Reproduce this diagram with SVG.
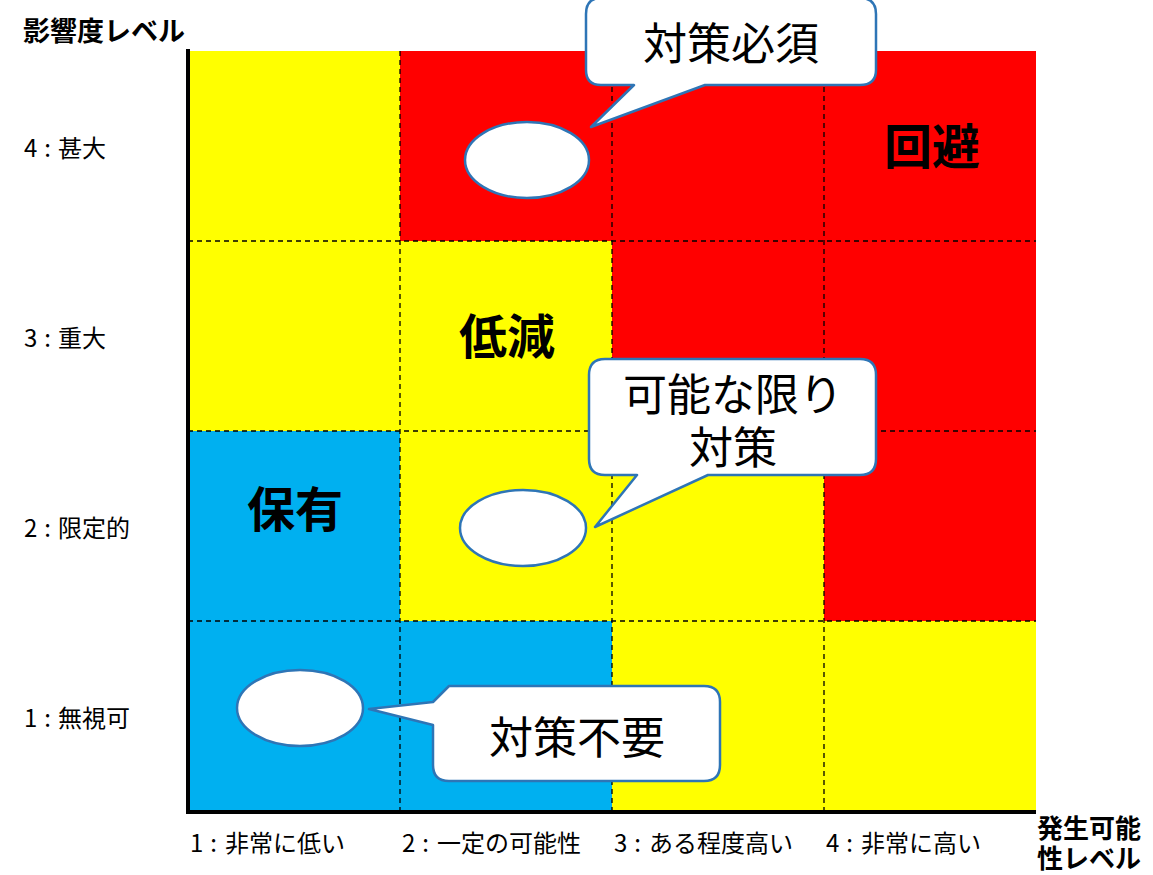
<svg xmlns="http://www.w3.org/2000/svg" width="1153" height="875" viewBox="0 0 1153 875">
<style>
.lbl{font-family:"Noto Sans CJK JP","Liberation Sans",sans-serif;font-size:24px;fill:#000}
.ttl{font-family:"Noto Sans CJK JP","Liberation Sans",sans-serif;font-size:27px;font-weight:700;fill:#000}
.ttl2{font-family:"Noto Sans CJK JP","Liberation Sans",sans-serif;font-size:26px;font-weight:700;fill:#000}
.cat{font-family:"Noto Sans CJK JP",sans-serif;font-size:48px;font-weight:700;fill:#000;text-anchor:middle}
.co{font-family:"Noto Sans CJK JP",sans-serif;font-size:44px;fill:#000;text-anchor:middle}
.bub{fill:#fff;stroke:#2E75B6;stroke-width:2.5;stroke-linejoin:round}
.dash{stroke:#000;stroke-width:1.3;stroke-dasharray:5,4;fill:none}
.y{fill:#FFFF00}.r{fill:#FF0000}.b{fill:#00B0F0}
</style>
<rect width="1153" height="875" fill="#fff"/>
<g id="grid">
<rect class="y" x="188" y="51" width="212" height="190"/>
<rect class="r" x="400" y="51" width="636" height="190"/>
<rect class="y" x="188" y="241" width="424" height="190"/>
<rect class="r" x="612" y="241" width="424" height="190"/>
<rect class="b" x="188" y="431" width="212" height="190"/>
<rect class="y" x="400" y="431" width="424" height="190"/>
<rect class="r" x="824" y="431" width="212" height="190"/>
<rect class="b" x="188" y="621" width="424" height="189"/>
<rect class="y" x="612" y="621" width="424" height="189"/>
</g>
<g id="connectors">
<path class="dash" d="M400 51V810M612 51V810M824 51V810M188 241H1036M188 431H1036M188 621H1036"/>
<path d="M188 49V812H1036" fill="none" stroke="#000" stroke-width="4"/>
</g>
<g id="axis-y-title"><text class="ttl" x="23" y="41">影響度レベル</text></g>
<g id="axis-y-labels">
<text class="lbl" x="24" y="157">4<tspan dx="7">:</tspan><tspan dx="7">甚大</tspan></text>
<text class="lbl" x="24" y="347">3<tspan dx="7">:</tspan><tspan dx="7">重大</tspan></text>
<text class="lbl" x="24" y="537">2<tspan dx="7">:</tspan><tspan dx="7">限定的</tspan></text>
<text class="lbl" x="24" y="727">1<tspan dx="7">:</tspan><tspan dx="7">無視可</tspan></text>
</g>
<g id="axis-x-labels">
<text class="lbl" x="190" y="852">1<tspan dx="7">:</tspan><tspan dx="8">非常に低い</tspan></text>
<text class="lbl" x="402" y="852">2<tspan dx="7">:</tspan><tspan dx="8">一定の可能性</tspan></text>
<text class="lbl" x="614" y="852">3<tspan dx="7">:</tspan><tspan dx="8">ある程度高い</tspan></text>
<text class="lbl" x="826" y="852">4<tspan dx="7">:</tspan><tspan dx="8">非常に高い</tspan></text>
</g>
<g id="axis-x-title">
<text class="ttl2" x="1037" y="838">発生可能</text>
<text class="ttl2" x="1037" y="868">性レベル</text>
</g>
<g id="cat-kaihi"><text class="cat" x="932" y="164">回避</text></g>
<g id="cat-teigen"><text class="cat" x="507" y="354">低減</text></g>
<g id="cat-hoyu"><text class="cat" x="295" y="527">保有</text></g>
<g id="ellipse-1"><ellipse class="bub" cx="527" cy="160" rx="62" ry="38"/></g>
<g id="ellipse-2"><ellipse class="bub" cx="523" cy="528" rx="63" ry="38"/></g>
<g id="ellipse-3"><ellipse class="bub" cx="300" cy="708" rx="63" ry="38"/></g>
<g id="callout-hissu">
<path class="bub" d="M601 -2H860Q876 -2 876 14V70Q876 85 860 85H705L591 127L634 85H601Q586 85 586 70V14Q586 -2 601 -2Z"/>
<text class="co" x="731" y="60">対策必須</text>
</g>
<g id="callout-kanou">
<path class="bub" d="M605 359H860Q876 359 876 375V459Q876 475 860 475H708L595 527L637 475H605Q589 475 589 459V375Q589 359 605 359Z"/>
<text class="co" x="733" y="411">可能な限り</text>
<text class="co" x="733" y="464">対策</text>
</g>
<g id="callout-fuyou">
<path class="bub" d="M449 686H704Q720 686 720 702V765Q720 781 704 781H449Q433 781 433 765V725L369 709L433 702Z"/>
<text class="co" x="577" y="754">対策不要</text>
</g>
</svg>
